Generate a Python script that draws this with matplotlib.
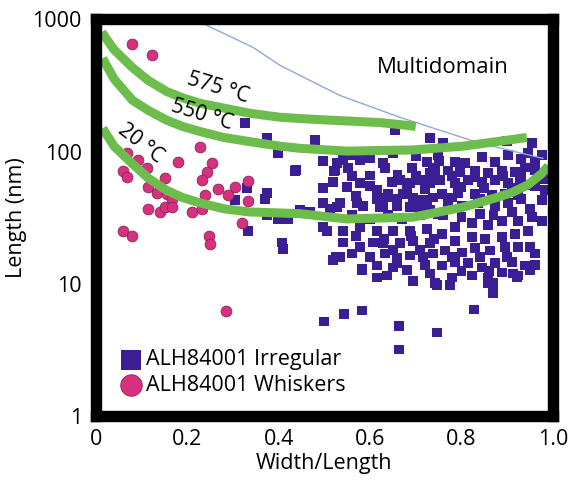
import matplotlib
matplotlib.use("Agg")
import matplotlib.pyplot as plt
from matplotlib.ticker import FixedLocator, NullLocator

plt.rcParams['font.family'] = ['Open Sans', 'DejaVu Sans']

# ALH84001 irregular crystals (squares)
irr_x = [0.326, 0.374, 0.398, 0.479, 0.438, 0.497, 0.521, 0.519, 0.497, 0.374,
         0.370, 0.330, 0.497, 0.512, 0.446, 0.468, 0.398, 0.420, 0.374, 0.497,
         0.505, 0.333, 0.409, 0.525, 0.304, 0.654, 0.731, 0.759, 0.900, 0.954,
         0.435, 0.527, 0.407,
         0.540, 0.523, 0.551, 0.578, 0.628, 0.632, 0.691, 0.724, 0.737, 0.731,
         0.578, 0.648, 0.665, 0.687, 0.709, 0.731, 0.746, 0.615, 0.615, 0.637,
         0.659, 0.672, 0.694, 0.716, 0.737, 0.534, 0.571, 0.584, 0.628, 0.687,
         0.724,
         0.748, 0.786, 0.807, 0.845, 0.873, 0.902, 0.945, 0.976, 0.742, 0.770,
         0.796, 0.829, 0.858, 0.888, 0.917, 0.939, 0.961, 0.753, 0.786, 0.814,
         0.845, 0.873, 0.902, 0.928, 0.945, 0.757, 0.792, 0.829, 0.867, 0.895,
         0.923, 0.770, 0.801, 0.836, 0.873, 0.902, 0.976, 0.982,
         0.527, 0.621, 0.659, 0.702, 0.731, 0.540, 0.578, 0.615, 0.650, 0.687,
         0.724, 0.540, 0.578, 0.606, 0.628, 0.665, 0.694, 0.731, 0.534, 0.600,
         0.632, 0.659, 0.687, 0.716, 0.737, 0.582, 0.615, 0.650, 0.681, 0.615,
         0.637, 0.694, 0.731, 0.519, 0.560, 0.600, 0.640, 0.670, 0.710,
         0.748, 0.786, 0.823, 0.858, 0.888, 0.923, 0.954, 0.976, 0.757, 0.786,
         0.823, 0.851, 0.888, 0.917, 0.945, 0.764, 0.801, 0.829, 0.862, 0.895,
         0.923, 0.950, 0.757, 0.786, 0.814, 0.845, 0.873, 0.910, 0.939, 0.779,
         0.823, 0.858, 0.888, 0.923, 0.742, 0.858,
         0.582, 0.746, 0.775, 0.869, 0.869, 0.921, 0.499, 0.543, 0.582, 0.663,
         0.663, 0.746, 0.827, 0.912, 0.950,
         1.0, 1.0, 1.0, 1.0, 1.0, 1.0, 1.0, 1.0,
         0.56, 0.60, 0.65, 0.70, 0.75,
         0.56, 0.60, 0.66, 0.70, 0.78, 0.83, 0.89, 0.93,
         0.55, 0.60, 0.68, 0.72, 0.80, 0.85, 0.91, 0.96,
         0.76, 0.80, 0.84, 0.87, 0.91, 0.95,
         0.57, 0.63, 0.69, 0.74,
         0.56, 0.65, 0.71, 0.78, 0.84, 0.90, 0.96,
         0.66, 0.72, 0.80, 0.86, 0.96,
         0.57, 0.64, 0.78, 0.84, 0.93,
         0.96, 0.98, 0.93]
irr_y = [164, 126, 97, 122, 73, 84.5, 71, 59, 53, 49,
         44, 53, 41, 37, 36, 35, 31, 31, 33, 27,
         25, 25, 18.3, 15.9, 43, 145, 126, 117, 120, 116,
         71, 82, 20.6,
         86, 72, 75, 87, 82, 75, 75, 83, 76, 68.5,
         58, 59, 61, 58, 61, 58, 61, 51, 44, 45,
         44, 48, 45, 43, 45, 41, 41, 39, 39, 38,
         38,
         94, 83, 82, 91, 83, 94, 97, 94, 72, 72,
         70, 72, 68.5, 72, 70, 76, 72, 61, 58, 61,
         59, 61, 58, 61, 56, 48, 49, 48, 47, 48,
         47, 41, 39, 41, 39, 41, 43, 51,
         38, 38, 39, 38, 36, 25, 27, 25, 25, 25,
         26, 20.6, 18.9, 20.6, 20.3, 20.3, 21, 20.3, 15.9, 15.9,
         17.0, 15.6, 16.4, 15.9, 17.0, 13.1, 13.8, 13.3, 12.7, 11.2,
         11.6, 10.6, 12.0, 15.1, 33, 31, 33, 31, 33,
         34, 27, 29, 28, 30, 30, 32, 30, 24, 21,
         22.5, 22, 22.5, 24, 25, 17.9, 17.3, 18.6, 17.9, 18.9,
         18.9, 18.9, 13.8, 14.6, 14.3, 13.3, 14.3, 14.6, 13.8, 11.2,
         11.6, 11.2, 12.2, 11.6, 10.1, 10.1,
         12.7, 9.8, 9.8, 8.6, 10.1, 11.2, 5.2, 5.9, 6.3, 4.8,
         3.2, 4.3, 6.4, 12.0, 12.7,
         94, 72, 30, 20, 11.2, 7.3, 5.6, 4.3,
         95, 90, 98, 92, 85,
         65, 66, 67, 65, 65, 64, 65, 66,
         54, 55, 53, 52, 54, 53, 53, 55,
         33, 32, 34, 33, 35, 37,
         23, 22, 23, 22,
         17, 18, 18, 16, 16, 16, 17,
         14.5, 14, 12.5, 12.5, 14,
         46, 48, 45, 44, 44,
         85, 62, 88]

# ALH84001 whiskers (circles)
whi_x = [0.079, 0.123, 0.228, 0.179, 0.254, 0.243, 0.232, 0.068, 0.092, 0.059,
         0.068, 0.112, 0.151, 0.114, 0.133, 0.155, 0.166, 0.114, 0.140, 0.151,
         0.166, 0.210, 0.232, 0.267, 0.289, 0.304, 0.333, 0.333, 0.319, 0.059,
         0.079, 0.247, 0.249, 0.239, 0.284]
whi_y = [647, 535, 108, 83, 82, 70, 61, 97, 86, 72,
         64, 75, 63, 54, 49, 48, 44, 37, 35, 38,
         38, 35, 37, 52, 47, 54, 60, 42, 29, 25,
         23, 23, 20, 47, 6.2]

# boundary curves (575 °C, 550 °C, 20 °C) and the thin blue limit
c575_x = [0.013, 0.04, 0.08, 0.115, 0.155, 0.19, 0.228, 0.337, 0.403, 0.446, 0.512, 0.621, 0.681, 0.70]
c575_y = [800, 590, 433, 345, 285, 255, 232, 195, 182, 178, 173, 166, 158, 155]
c550_x = [0.015, 0.04, 0.08, 0.115, 0.155, 0.19, 0.228, 0.28, 0.337, 0.403, 0.446, 0.549, 0.694, 0.803, 0.877, 0.943]
c550_y = [507, 355, 245, 205, 173, 155, 142, 128, 119, 110, 106, 101, 103, 110, 119, 128]
c20_x = [0.015, 0.04, 0.08, 0.115, 0.155, 0.19, 0.228, 0.28, 0.337, 0.446, 0.549, 0.694, 0.803, 0.877, 0.91, 0.945, 0.975, 0.99]
c20_y = [150, 110, 81, 63, 51, 45, 41, 37, 35, 34, 31, 32, 38, 45, 49, 56, 68, 78]
blue_x = [0.21, 0.243, 0.344, 0.403, 0.534, 0.665, 0.840, 0.978]
blue_y = [1050, 901, 614, 449, 266, 182, 116, 89]

fig = plt.figure(figsize=(5.7, 4.84), dpi=100)
ax = fig.add_axes([0.168, 0.140, 0.802, 0.820])

green = '#6cbd4b'
ax.plot(blue_x, blue_y, color='#8fa8de', lw=1.0)
for cx, cy in [(c575_x, c575_y), (c550_x, c550_y), (c20_x, c20_y)]:
    ax.plot(cx, cy, color=green, lw=6.5, solid_capstyle='butt',
            solid_joinstyle='round')

ax.scatter(irr_x, irr_y, marker='s', s=50, color='#3b1e94', edgecolors='none',
           label='ALH84001 Irregular', zorder=1.5)
ax.scatter(whi_x, whi_y, marker='o', s=60, color='#d6307f', edgecolors='#8a2456',
           linewidths=0.6, label='ALH84001 Whiskers', zorder=1.6)

ax.text(0.267, 301, '575 °C', rotation=-17, ha='center', va='center', fontsize=15)
ax.text(0.232, 188, '550 °C', rotation=-17, ha='center', va='center', fontsize=15)
ax.text(0.098, 116, '20 °C', rotation=-38, ha='center', va='center', fontsize=15)
ax.text(0.759, 433, 'Multidomain', ha='center', va='center', fontsize=16)

ax.set_yscale('log')
ax.set_xlim(0, 1.0)
ax.set_ylim(1, 1000)
ax.xaxis.set_major_locator(FixedLocator([0, 0.2, 0.4, 0.6, 0.8, 1.0]))
ax.set_xticklabels(['0', '0.2', '0.4', '0.6', '0.8', '1.0'])
ax.yaxis.set_major_locator(FixedLocator([1, 10, 100, 1000]))
ax.yaxis.set_minor_locator(NullLocator())
ax.set_yticklabels(['1', '10', '100', '1000'])
ax.tick_params(axis='both', length=0, labelsize=15.5)
ax.tick_params(axis='x', pad=9)
ax.tick_params(axis='y', pad=10)

for sp in ax.spines.values():
    sp.set_linewidth(8.2)
    sp.set_color('black')

ax.set_xlabel('Width/Length', fontsize=15.5, labelpad=2)
ax.set_ylabel('Length (nm)', fontsize=15.5, labelpad=4)

ax.legend(loc='lower left', bbox_to_anchor=(0.03, 0.03), frameon=False,
          markerscale=2.0, handletextpad=0.1, labelspacing=0.2,
          borderaxespad=0, fontsize=15.5, handlelength=1.2)

fig.savefig('out.png', dpi=100)
